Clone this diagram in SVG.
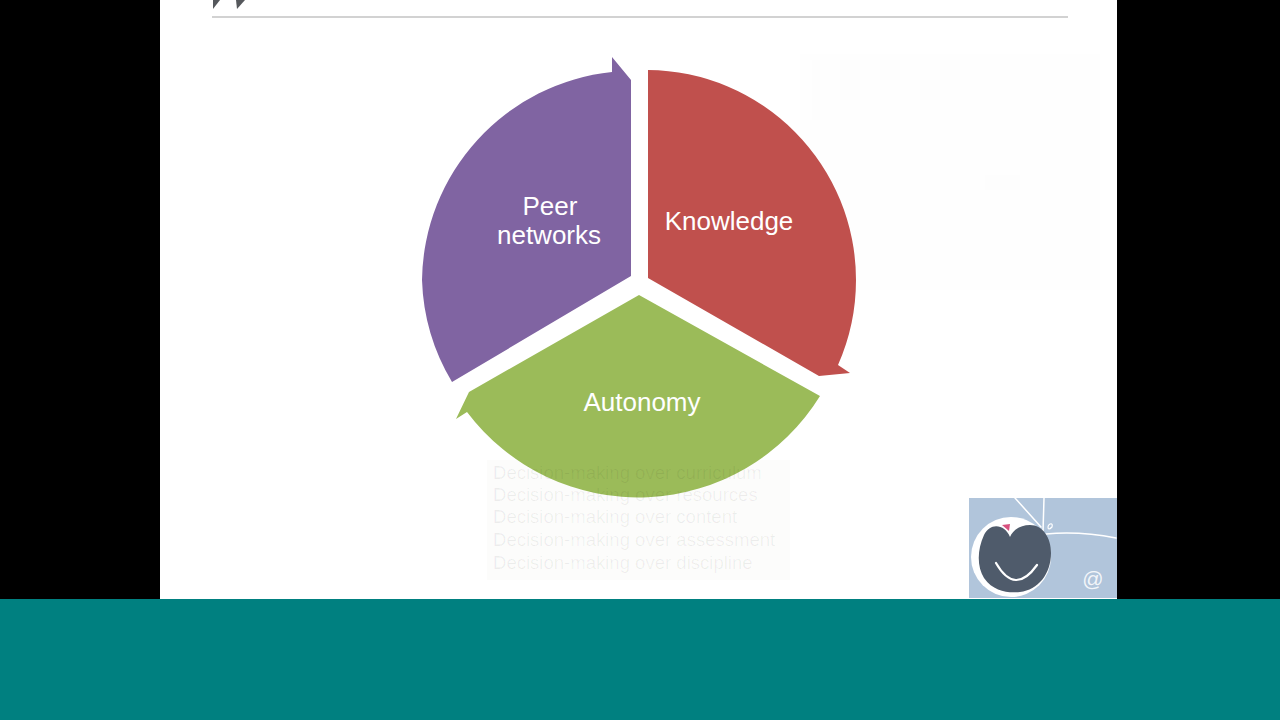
<svg xmlns="http://www.w3.org/2000/svg" width="1280" height="720" viewBox="0 0 1280 720">
<style>
.lbl{font-family:"Liberation Sans",Arial,sans-serif;font-size:26px;fill:#fff;text-anchor:middle}
.faint{font-family:"Liberation Sans",Arial,sans-serif;font-size:18.55px;fill:#000;fill-opacity:.06}
.logo{fill:none;stroke:#fff;stroke-linecap:round}
</style>
<rect width="1280" height="720" fill="#000"/>
<rect x="160" width="957" height="600" fill="#fff"/>
<rect y="599" width="1280" height="121" fill="#008080"/>
<g id="header">
<rect x="212" y="16" width="856" height="2" fill="#d2d2d2"/>
<path d="M213 0H220L213 9Z" fill="#55585c"/>
<path d="M236 0H245L237 9Z" fill="#55585c"/>
</g>
<g id="faint-panel">
<rect x="800" y="54" width="300" height="236" fill="#fefefe"/>
<rect x="812" y="60" width="8" height="60" fill="#fdfdfd"/>
<rect x="840" y="60" width="20" height="40" fill="#fdfdfd"/>
<rect x="880" y="60" width="20" height="20" fill="#fdfdfd"/>
<rect x="920" y="80" width="20" height="20" fill="#fdfdfd"/>
<rect x="940" y="60" width="20" height="20" fill="#fdfdfd"/>
<rect x="985" y="175" width="35" height="15" fill="#fdfdfd"/>
</g>
<rect id="faint-text-panel" x="487" y="460" width="303" height="120" fill="#fcfcfb"/>
<g id="knowledge">
<path d="M648 70A210 210 0 0 1 856 280A210 210 0 0 1 838 365L850 373L819 376L648 278Z" fill="#c0504d"/>
<text class="lbl" x="729" y="230">Knowledge</text>
</g>
<g id="peer-networks">
<path d="M631 276L452 382A212 212 0 0 1 422 280A212 212 0 0 1 612 72L612 57L631 80Z" fill="#8064a2"/>
<text class="lbl"><tspan x="550" y="215">Peer</tspan><tspan x="549" y="244">networks</tspan></text>
</g>
<g id="autonomy">
<path d="M639 295L820 396A214 214 0 0 1 467 412L456 419L469 392Z" fill="#9bbb59"/>
<text class="lbl" x="642" y="411">Autonomy</text>
</g>
<g id="faint-text">
<text class="faint"><tspan x="493" y="479">Decision-making over curriculum</tspan><tspan x="493" y="501">Decision-making over resources</tspan><tspan x="493" y="523">Decision-making over content</tspan><tspan x="493" y="546">Decision-making over assessment</tspan><tspan x="493" y="569">Decision-making over discipline</tspan></text>
</g>
<g id="logo">
<rect x="969" y="498" width="148" height="100" fill="#b1c5db"/>
<path class="logo" stroke-width="1.5" d="M1015 498L1041 527"/>
<path class="logo" stroke-width="1.5" d="M1044 498L1043 532"/>
<path class="logo" stroke-width="1.5" d="M1046 534Q1080 531 1116 538"/>
<circle cx="1011" cy="557" r="40" fill="#fff"/>
<path d="M1010 537C1005 524 990 522 984 535C977 550 977 567 984 578C994 592 1008 593 1020 592C1038 590 1051 574 1051 553C1051 538 1043 525 1030 525C1020 525 1013 530 1010 537Z" fill="#4f5b6b"/>
<path d="M1002 525L1010 524L1009 531Z" fill="#d8517f"/>
<path class="logo" stroke-width="2.2" d="M996 563Q1015 596 1037 565"/>
<path class="logo" stroke-width="1.2" d="M1050 524Q1053 523 1052 527Q1048 531 1048 527Q1048 525 1050 524Z"/>
<text x="1093" y="586" font-family="'Liberation Sans',Arial,sans-serif" font-size="21" fill="#fff" fill-opacity=".85" text-anchor="middle">@</text>
</g>
</svg>
